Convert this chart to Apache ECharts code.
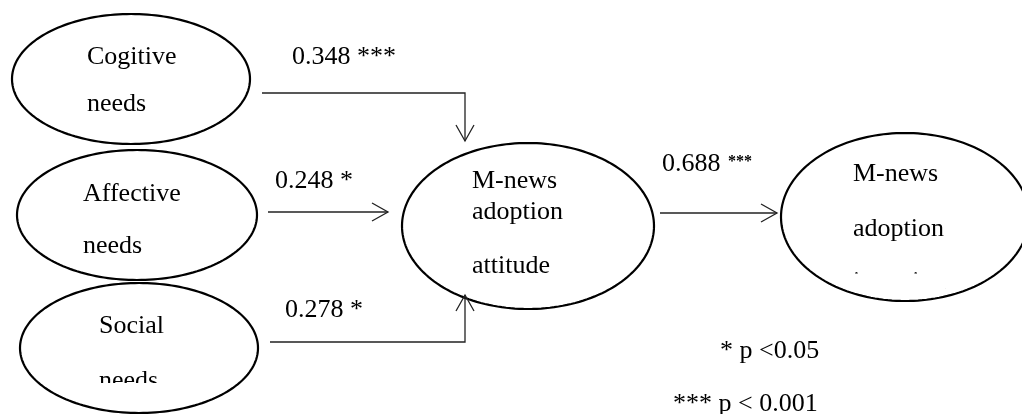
<!DOCTYPE html>
<html><head><meta charset="utf-8">
<script src="https://cdn.jsdelivr.net/npm/echarts@6/dist/echarts.min.js"></script>
<style>html,body{margin:0;padding:0;background:#fff}#c{width:1022px;height:414px}</style>
</head><body><div id="c"></div>
<script>
// ---- content ----
const nodeLabels = [
  ['Cogitive', 'needs'],
  ['Affective', 'needs'],
  ['Social', 'needs'],
  ['M-news', 'adoption', 'attitude'],
  ['M-news', 'adoption', 'intention']
];
const pathCoefficients = ['0.348', '0.248', '0.278', '0.688'];
const pathStars = ['***', '*', '*', '***'];
const noteLabels = ['* p <0.05', '*** p < 0.001'];

// ---- layout (diagram coordinates, pixels of a 1022 x 414 plane) ----
const nodeCenter = [[131, 79], [137, 215], [139, 348], [528, 226], [905, 217]];
const nodeRadius = [[119, 65], [120, 65], [119, 65], [126, 83], [124, 84]];
const nodeTextX = [87, 83, 99, 472, 853];
const nodeTextBase = [[64, 111], [201, 253], [333, 388], [188, 219, 273], [181, 236, 289]];
const arrowPaths = [
  [[262, 93], [465, 93], [465, 141]],
  [[268, 212], [388, 212]],
  [[270, 342], [465, 342], [465, 295]],
  [[660, 213], [777, 213]]
];
const coefPos = [[292, 64], [275, 188], [285, 317], [662, 171]];
const notePos = [[720, 358], [673, 411]];
// masks reproducing the clipped text at the bottom of two ovals
const maskRects = [[92, 383, 76, 14], [851, 273.5, 94, 16]];

const FONT = '"Liberation Serif", "Times New Roman", serif';

// text items (y = alphabetic baseline)
const textItems = [];
nodeLabels.forEach((lines, i) => {
  lines.forEach((t, j) => textItems.push({ x: nodeTextX[i], y: nodeTextBase[i][j], text: t, size: 26, weight: 'normal' }));
});
pathCoefficients.forEach((c, i) => {
  if (i === 3) {
    textItems.push({ x: coefPos[i][0], y: coefPos[i][1], text: c, size: 26, weight: 'normal' });
    textItems.push({ x: coefPos[i][0] + 66, y: coefPos[i][1] - 5, text: pathStars[i], size: 16, weight: 'bold' });
  } else {
    textItems.push({ x: coefPos[i][0], y: coefPos[i][1], text: c + ' ' + pathStars[i], size: 26, weight: 'normal' });
  }
});
noteLabels.forEach((t, i) => textItems.push({ x: notePos[i][0], y: notePos[i][1], text: t, size: 26, weight: 'normal' }));

const chart = echarts.init(document.getElementById('c'), null, { renderer: 'canvas' });
chart.setOption({
  animation: false,
  backgroundColor: '#fff',
  grid: { left: 0, right: 0, top: 0, bottom: 0 },
  xAxis: { type: 'value', min: 0, max: 1022, show: false },
  yAxis: { type: 'value', min: 0, max: 414, inverse: true, show: false },
  series: [
    {
      type: 'custom', silent: true, clip: false,
      data: nodeCenter.map((c, i) => [c[0], c[1], nodeRadius[i][0], nodeRadius[i][1]]),
      renderItem: (params, api) => {
        const c = api.coord([api.value(0), api.value(1)]);
        const s = api.size([api.value(2), api.value(3)]);
        const pts = [];
        const N = 180;
        for (let k = 0; k < N; k++) {
          const a = (k / N) * Math.PI * 2;
          pts.push([c[0] + s[0] * Math.cos(a), c[1] + s[1] * Math.sin(a)]);
        }
        return { type: 'polygon', shape: { points: pts }, style: { fill: '#fff', stroke: '#000', lineWidth: 2.2 } };
      }
    },
    {
      type: 'custom', silent: true, clip: false,
      data: arrowPaths.map((p, i) => [i]),
      renderItem: (params, api) => {
        const path = arrowPaths[api.value(0)].map(p => api.coord(p));
        const a = path[path.length - 2], b = path[path.length - 1];
        const dx = b[0] - a[0], dy = b[1] - a[1];
        const L = Math.hypot(dx, dy), ux = dx / L, uy = dy / L;
        const len = 16, hw = 9;
        const head = [
          [b[0] - ux * len - uy * hw, b[1] - uy * len + ux * hw],
          [b[0], b[1]],
          [b[0] - ux * len + uy * hw, b[1] - uy * len - ux * hw]
        ];
        return {
          type: 'group',
          children: [
            { type: 'polyline', shape: { points: path }, style: { stroke: '#222', lineWidth: 1.3, fill: null } },
            { type: 'polyline', shape: { points: head }, style: { stroke: '#222', lineWidth: 1.3, fill: null } }
          ]
        };
      }
    },
    {
      type: 'custom', silent: true, clip: false,
      data: textItems.map((t, i) => [t.x, t.y, i]),
      renderItem: (params, api) => {
        const t = textItems[api.value(2)];
        const p = api.coord([api.value(0), api.value(1)]);
        // convert alphabetic baseline to top of the text box
        return {
          type: 'text', x: p[0], y: p[1] - t.size * 0.77,
          style: { text: t.text, fontFamily: FONT, fontSize: t.size, fontWeight: t.weight, fill: '#000', verticalAlign: 'top', align: 'left' }
        };
      }
    },
    {
      type: 'custom', silent: true, clip: false,
      data: maskRects,
      renderItem: (params, api) => {
        const p = api.coord([api.value(0), api.value(1)]);
        const s = api.size([api.value(2), api.value(3)]);
        return { type: 'rect', shape: { x: p[0], y: p[1], width: s[0], height: s[1] }, style: { fill: '#fff' } };
      }
    }
  ]
});
</script>
</body></html>
